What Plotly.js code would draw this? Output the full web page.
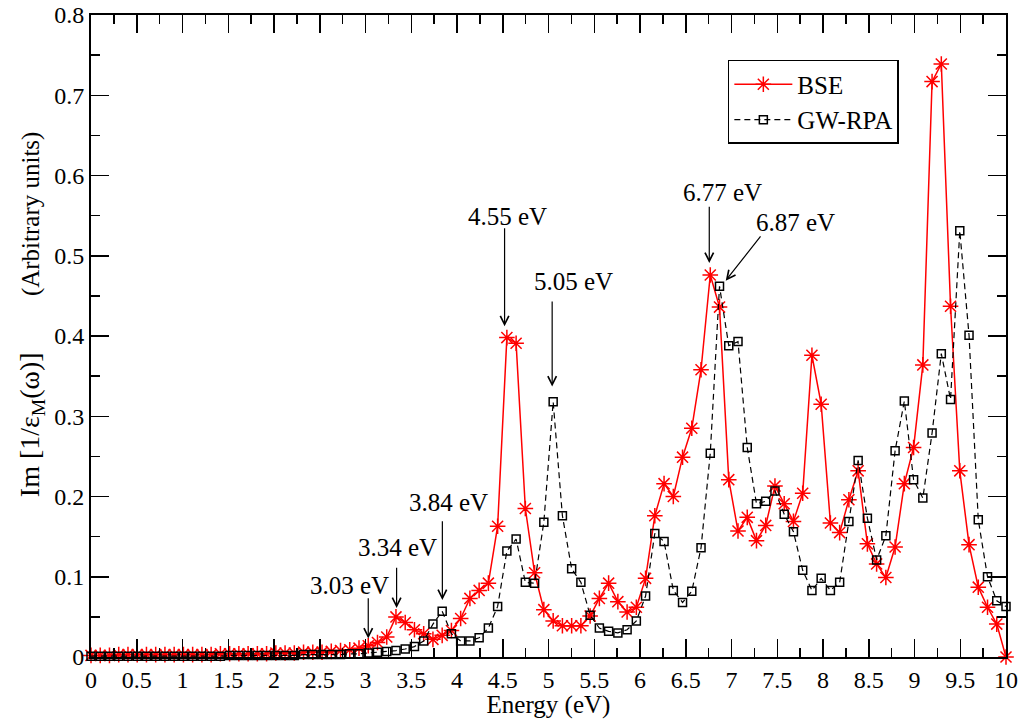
<!DOCTYPE html>
<html>
<head>
<meta charset="utf-8">
<script src="https://cdn.plot.ly/plotly-3.0.1.min.js"></script>
<style>html,body{margin:0;padding:0;background:#fff;}#chart{width:1024px;height:719px;}</style>
</head>
<body>
<div id="chart"></div>
<script>
// Energy grid (eV)
const energy = [
  0.000, 0.101, 0.202, 0.303, 0.404, 0.505, 0.606, 0.707, 0.808, 0.909,
  1.010, 1.111, 1.212, 1.313, 1.414, 1.515, 1.616, 1.717, 1.818, 1.919,
  2.020, 2.121, 2.222, 2.323, 2.424, 2.525, 2.626, 2.727, 2.828, 2.929,
  3.030, 3.131, 3.232, 3.333, 3.434, 3.535, 3.636, 3.737, 3.838, 3.939,
  4.040, 4.141, 4.242, 4.343, 4.444, 4.545, 4.646, 4.747, 4.848, 4.949,
  5.051, 5.152, 5.253, 5.354, 5.455, 5.556, 5.657, 5.758, 5.859, 5.960,
  6.061, 6.162, 6.263, 6.364, 6.465, 6.566, 6.667, 6.768, 6.869, 6.970,
  7.071, 7.172, 7.273, 7.374, 7.475, 7.576, 7.677, 7.778, 7.879, 7.980,
  8.081, 8.182, 8.283, 8.384, 8.485, 8.586, 8.687, 8.788, 8.889, 8.990,
  9.091, 9.192, 9.293, 9.394, 9.495, 9.596, 9.697, 9.798, 9.899, 10.000
];

const bse = [
  0.002, 0.002, 0.002, 0.003, 0.003, 0.003, 0.003, 0.003, 0.003, 0.003,
  0.003, 0.003, 0.003, 0.003, 0.004, 0.004, 0.004, 0.004, 0.004, 0.004,
  0.005, 0.005, 0.005, 0.006, 0.006, 0.006, 0.007, 0.008, 0.009, 0.011,
  0.014, 0.018, 0.025, 0.050, 0.043, 0.034, 0.029, 0.022, 0.027, 0.033,
  0.048, 0.073, 0.083, 0.092, 0.163, 0.398, 0.391, 0.185, 0.105, 0.059,
  0.045, 0.039, 0.039, 0.039, 0.051, 0.073, 0.092, 0.069, 0.056, 0.062,
  0.098, 0.176, 0.216, 0.200, 0.249, 0.285, 0.358, 0.476, 0.436, 0.221,
  0.157, 0.174, 0.145, 0.164, 0.213, 0.191, 0.169, 0.204, 0.376, 0.315,
  0.167, 0.155, 0.196, 0.232, 0.141, 0.116, 0.099, 0.137, 0.216, 0.261,
  0.364, 0.717, 0.739, 0.437, 0.232, 0.140, 0.087, 0.062, 0.041, 0.000
];

const gwrpa = [
  0.001, 0.001, 0.001, 0.001, 0.001, 0.001, 0.001, 0.001, 0.001, 0.001,
  0.001, 0.001, 0.001, 0.001, 0.001, 0.002, 0.002, 0.002, 0.002, 0.002,
  0.002, 0.002, 0.002, 0.003, 0.003, 0.003, 0.003, 0.003, 0.004, 0.004,
  0.005, 0.006, 0.007, 0.008, 0.010, 0.013, 0.020, 0.041, 0.057, 0.029,
  0.020, 0.020, 0.024, 0.036, 0.063, 0.132, 0.147, 0.093, 0.092, 0.168,
  0.318, 0.176, 0.110, 0.093, 0.052, 0.036, 0.032, 0.030, 0.034, 0.045,
  0.076, 0.154, 0.144, 0.083, 0.068, 0.082, 0.136, 0.254, 0.462, 0.388,
  0.393, 0.261, 0.191, 0.194, 0.207, 0.178, 0.156, 0.108, 0.083, 0.098,
  0.083, 0.093, 0.169, 0.245, 0.173, 0.121, 0.151, 0.257, 0.319, 0.221,
  0.198, 0.279, 0.378, 0.321, 0.531, 0.401, 0.171, 0.100, 0.070, 0.063
];

const seriesNames = ['BSE', 'GW-RPA'];

// Peak labels
const peakLabels = ['3.03 eV', '3.34 eV', '3.84 eV', '4.55 eV', '5.05 eV', '6.77 eV', '6.87 eV'];

const FONT = 'Liberation Serif';

const traces = [
  {
    x: energy, y: bse, name: seriesNames[0], type: 'scatter', mode: 'lines+markers',
    line: {color: '#ff0000', width: 1.5},
    marker: {symbol: 'asterisk-open', size: 13, color: '#ff0000', line: {color: '#ff0000', width: 1.5}},
    cliponaxis: false
  },
  {
    x: energy, y: gwrpa, name: seriesNames[1], type: 'scatter', mode: 'lines+markers',
    line: {color: '#000000', width: 1.2, dash: '6px,4px'},
    marker: {symbol: 'square-open', size: 8, color: '#000000', line: {color: '#000000', width: 1.5}},
    cliponaxis: false
  }
];

// arrow annotations (head x,y ; tail ax,ay in data units)
const arrows = [
  {x: 3.03, y: 0.023, ax: 3.03, ay: 0.075},
  {x: 3.34, y: 0.061, ax: 3.34, ay: 0.113},
  {x: 3.84, y: 0.071, ax: 3.84, ay: 0.171},
  {x: 4.52, y: 0.412, ax: 4.52, ay: 0.536},
  {x: 5.04, y: 0.337, ax: 5.04, ay: 0.445},
  {x: 6.757, y: 0.491, ax: 6.757, ay: 0.563},
  {x: 6.937, y: 0.469, ax: 7.33, ay: 0.526}
];
const labelPos = [
  {x: 2.83, y: 0.0885},
  {x: 3.35, y: 0.1364},
  {x: 3.91, y: 0.1931},
  {x: 4.557, y: 0.5483},
  {x: 5.268, y: 0.4673},
  {x: 6.907, y: 0.5782},
  {x: 7.694, y: 0.542}
];

const annotations = [];
arrows.forEach(a => annotations.push({
  x: a.x, y: a.y, ax: a.ax, ay: a.ay, xref: 'x', yref: 'y', axref: 'x', ayref: 'y',
  text: '', showarrow: true, arrowhead: 5, arrowsize: 1.4, arrowwidth: 1.2, arrowcolor: '#000'
}));
labelPos.forEach((p, i) => annotations.push({
  x: p.x, y: p.y, xref: 'x', yref: 'y', text: peakLabels[i], showarrow: false,
  font: {family: FONT, size: 25, color: '#000'}, xanchor: 'center', yanchor: 'middle'
}));

// y-axis title (rotated)
const nb = '\u00A0';
annotations.push({
  xref: 'paper', yref: 'paper', x: 0, y: 0.534, xshift: -60, xanchor: 'center', yanchor: 'middle',
  textangle: -90, showarrow: false,
  text: '<span style="font-size:28px">Im [1/ε<sub>M</sub>(ω)]</span>' + nb.repeat(9) + '(Arbitrary units)',
  font: {family: FONT, size: 25, color: '#000'}
});

const layout = {
  width: 1024, height: 719,
  margin: {l: 91, r: 18, t: 15, b: 62},
  paper_bgcolor: '#fff', plot_bgcolor: '#fff',
  font: {family: FONT, size: 24, color: '#000'},
  showlegend: true,
  legend: {
    x: 0.696, y: 0.93, xanchor: 'left', yanchor: 'top',
    bgcolor: '#fff', bordercolor: '#000', borderwidth: 1.5,
    font: {family: FONT, size: 25, color: '#000'},
    tracegroupgap: 0, itemwidth: 58
  },
  xaxis: {
    range: [0, 10], dtick: 0.5, tick0: 0, ticks: 'inside', ticklen: 18, tickwidth: 1.5, tickcolor: '#000',
    minor: {dtick: 0.25, ticks: 'inside', ticklen: 9, tickwidth: 1.5, tickcolor: '#000'},
    showline: true, linecolor: '#000', linewidth: 2, mirror: 'allticks',
    showgrid: false, zeroline: false,
    tickfont: {family: FONT, size: 24, color: '#000'},
    title: {text: 'Energy (eV)', font: {family: FONT, size: 25, color: '#000'}, standoff: 4},
    automargin: false
  },
  yaxis: {
    range: [0, 0.8], dtick: 0.1, tick0: 0, ticks: 'inside', ticklen: 18, tickwidth: 1.5, tickcolor: '#000',
    minor: {dtick: 0.05, ticks: 'inside', ticklen: 9, tickwidth: 1.5, tickcolor: '#000'},
    showline: true, linecolor: '#000', linewidth: 2, mirror: 'allticks',
    showgrid: false, zeroline: false,
    tickfont: {family: FONT, size: 24, color: '#000'},
    automargin: false
  },
  annotations: annotations
};

Plotly.newPlot('chart', traces, layout, {displayModeBar: false, staticPlot: true});
</script>
</body>
</html>
